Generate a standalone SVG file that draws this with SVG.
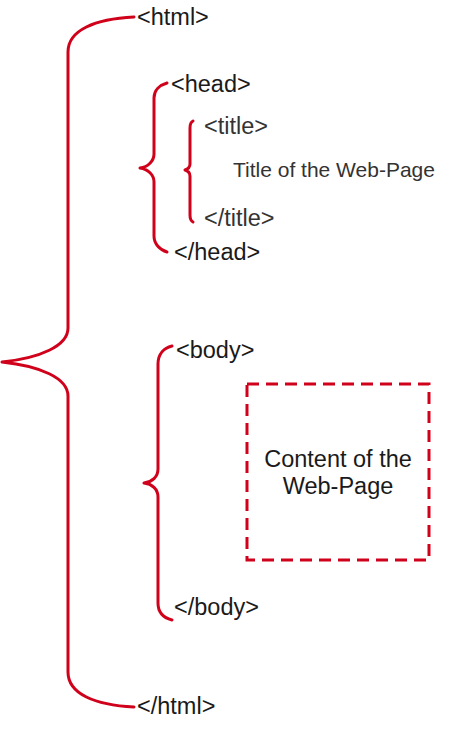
<svg xmlns="http://www.w3.org/2000/svg" width="472" height="753" viewBox="0 0 472 753">
<style>
.br{fill:none;stroke:#d0021b;stroke-width:3;stroke-linecap:round;stroke-linejoin:round}
.t{font-family:"Liberation Sans",Arial,sans-serif;font-size:23.5px;fill:#1a1a1a}
.g{fill:#333}
.s{font-size:21px}
.box{fill:none;stroke:#d0021b;stroke-width:3;stroke-dasharray:12 7}
</style>
<rect width="472" height="753" fill="#fff"/>
<g id="connectors">
<path id="html-brace" class="br" d="M134,17 C95,19 68,30 68,52 L68,328 C68,346 40,358 2,362 C40,366 68,378 68,396 L68,672 C68,694 95,705 134,707"/>
<path id="head-brace" class="br" d="M167,83 C160,85 154,90 154,98 L154,154 C154,161 148,167 140,168 C148,169 154,175 154,182 L154,236 C154,244 160,250 167,252"/>
<path id="title-brace" class="br" d="M193,121 C191,122 190,124 190,128 L190,164 C190,167 188,169 185,170 C188,171 190,173 190,176 L190,215 C190,219 191,221 193,222"/>
<path id="body-brace" class="br" d="M172,346 C164,348 158,354 158,364 L158,469 C158,477 152,482 144,483 C152,484 158,489 158,497 L158,603 C158,613 164,618 172,620"/>
</g>
<g id="html-open"><text class="t" x="137" y="25">&lt;html&gt;</text></g>
<g id="head-open"><text class="t" x="171" y="92">&lt;head&gt;</text></g>
<g id="title-open"><text class="t g" x="204" y="134">&lt;title&gt;</text></g>
<g id="title-text"><text class="t g s" x="233" y="177">Title of the Web-Page</text></g>
<g id="title-close"><text class="t g" x="204" y="226">&lt;/title&gt;</text></g>
<g id="head-close"><text class="t" x="174" y="260">&lt;/head&gt;</text></g>
<g id="body-open"><text class="t" x="176" y="358">&lt;body&gt;</text></g>
<g id="content">
<rect class="box" x="247" y="384" width="182" height="176"/>
<text class="t" x="338" y="467" text-anchor="middle">Content of the</text>
<text class="t" x="338" y="494" text-anchor="middle">Web-Page</text>
</g>
<g id="body-close"><text class="t" x="174" y="615">&lt;/body&gt;</text></g>
<g id="html-close"><text class="t" x="137" y="714">&lt;/html&gt;</text></g>
</svg>
